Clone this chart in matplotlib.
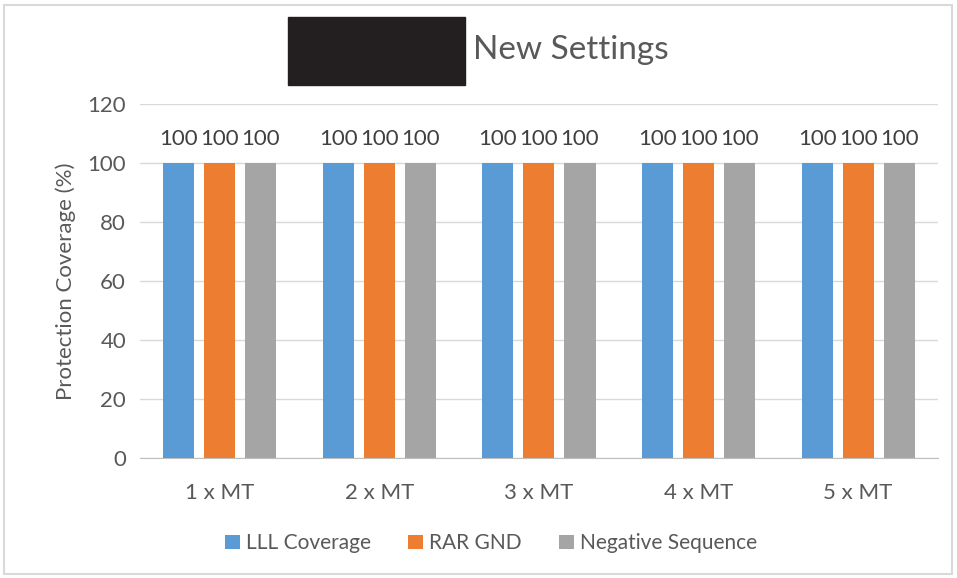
import numpy as np
import matplotlib
matplotlib.use('Agg')
import matplotlib.pyplot as plt
import matplotlib.patches as mpatches

categories = ['1 x MT', '2 x MT', '3 x MT', '4 x MT', '5 x MT']
lll_coverage = [100, 100, 100, 100, 100]
rar_gnd = [100, 100, 100, 100, 100]
neg_seq = [100, 100, 100, 100, 100]
series_names = ['LLL Coverage', 'RAR GND', 'Negative Sequence']
y_ticks = [0, 20, 40, 60, 80, 100, 120]

COLOURS = ['#5B9BD5', '#ED7D31', '#A5A5A5']
TEXT = '#595959'

plt.rcParams['font.family'] = ['Lato', 'DejaVu Sans']

fig = plt.figure(figsize=(9.57, 5.78), dpi=100)
ax = fig.add_axes([0.1463, 0.2076, 0.8337, 0.6124])

x = np.arange(len(categories))
width = 0.195
offsets = [-0.257, 0, 0.257]
for vals, off, col, name in zip([lll_coverage, rar_gnd, neg_seq], offsets, COLOURS, series_names):
    bars = ax.bar(x + off, vals, width, color=col, label=name, zorder=3)
    for b, v in zip(bars, vals):
        ax.annotate(f'{v}', xy=(b.get_x() + b.get_width() / 2, v),
                    xytext=(0, 10), textcoords='offset points',
                    ha='center', va='bottom', fontsize=16, color='#404040')

ax.set_xlim(-0.5, len(categories) - 0.5)
ax.set_ylim(0, 120)
ax.set_yticks(y_ticks)
ax.set_xticks(x)
ax.set_xticklabels(categories)
ax.tick_params(axis='both', length=0, labelsize=16, labelcolor=TEXT)
ax.tick_params(axis='x', pad=18)
ax.tick_params(axis='y', pad=10)
ax.grid(axis='y', color='#D9D9D9', linewidth=1, zorder=0)
for s in ['left', 'right', 'top']:
    ax.spines[s].set_visible(False)
ax.spines['bottom'].set_color('#BFBFBF')
ax.set_ylabel('Protection Coverage (%)', fontsize=16, color=TEXT, labelpad=8)

ax.legend(loc='upper center', bbox_to_anchor=(0.44, -0.16), ncol=3, frameon=False,
          fontsize=15, labelcolor=TEXT, handlelength=0.7, handleheight=0.7,
          handletextpad=0.3, columnspacing=1.8)

# title with redaction block
fig.patches.append(mpatches.Rectangle((288 / 957, 1 - 85 / 578), 177 / 957, 68 / 578,
                                      transform=fig.transFigure, color='#231F20', zorder=5))
fig.text(473 / 957, 1 - 50 / 578, 'New Settings', fontsize=24, color=TEXT,
         ha='left', va='center')

# outer border
fig.patches.append(mpatches.Rectangle((4 / 957, 4 / 578), 948 / 957, 569 / 578,
                                      transform=fig.transFigure, fill=False,
                                      edgecolor='#D9D9D9', linewidth=1.5))

fig.savefig('out.png', dpi=100)
